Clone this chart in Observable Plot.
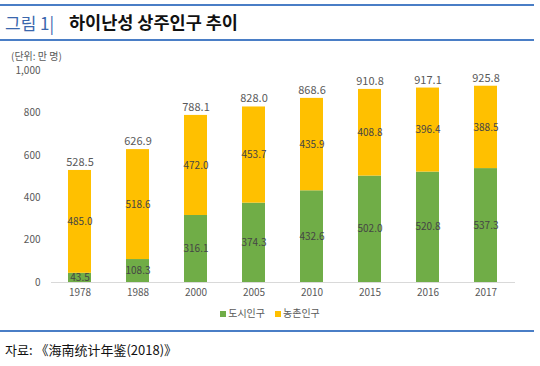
<!DOCTYPE html>
<html><head><meta charset="utf-8">
<script src="https://cdn.jsdelivr.net/npm/d3@7"></script>
<script src="https://cdn.jsdelivr.net/npm/@observablehq/plot@0.6"></script>
<style>
body{margin:0;width:540px;height:366px;background:#fff;font-family:"Noto Sans CJK KR",sans-serif;position:relative;overflow:hidden}
#title{position:absolute;left:0;top:4px;width:534px;height:33px;border-top:2px solid #4a7ec6;border-bottom:2px solid #4a7ec6;}
#title span.n{position:absolute;left:5px;top:4px;font-size:17px;color:#3a67ad;}
#title span.t{position:absolute;left:69px;top:3px;font-size:17.5px;font-weight:bold;color:#111;}
#unit{position:absolute;left:11px;top:48px;font-size:10px;color:#595959}
#chart{position:absolute;left:0;top:62px}
#legend{position:absolute;left:0;top:305px;width:540px;text-align:center;font-size:10px;color:#595959}
#legend span.sw{display:inline-block;width:6px;height:6px;margin-right:2px;vertical-align:0px}
#legend span.it{margin:0 5px}
#bline{position:absolute;left:0;top:330px;width:534px;border-top:2px solid #4a7ec6}
#src{position:absolute;left:5px;top:340px;font-size:13px;color:#111}
</style></head>
<body>
<div id="title"><span class="n">그림 1|</span><span class="t">하이난성 상주인구 추이</span></div>
<div id="unit">(단위: 만 명)</div>
<div id="chart"></div>
<div id="legend"></div>
<div id="bline"></div>
<div id="src">자료: 《海南统计年鉴(2018)》</div>
<script>
const years = ["1978","1988","2000","2005","2010","2015","2016","2017"];
const urban = [43.5,108.3,316.1,374.3,432.6,502.0,520.8,537.3];
const rural = [485.0,518.6,472.0,453.7,435.9,408.8,396.4,388.5];
const totals = [528.5,626.9,788.1,828.0,868.6,910.8,917.1,925.8];
const seriesNames = ["도시인구","농촌인구"];
const colors = ["#70ad47","#ffc000"];

const rows = [];
years.forEach((y,i)=>{
  rows.push({year:y, type:seriesNames[0], value:urban[i]});
  rows.push({year:y, type:seriesNames[1], value:rural[i]});
});
const totalRows = years.map((y,i)=>({year:y, total:totals[i]}));

const chart = Plot.plot({
  width:540, height:245,
  marginLeft:51, marginRight:25, marginTop:8, marginBottom:25,
  style:{fontFamily:"'Noto Sans CJK KR', sans-serif", fontSize:"10px", color:"#595959", background:"transparent"},
  x:{domain:years, paddingInner:0.6, paddingOuter:0.3, label:null, tickSize:0, tickPadding:6},
  y:{domain:[0,1000], ticks:[0,200,400,600,800,1000], label:null, tickSize:0, tickPadding:11, tickFormat:d3.format(",")},
  color:{domain:seriesNames, range:colors},
  marks:[
    Plot.barY(rows, Plot.stackY({x:"year", y:"value", fill:"type", order:seriesNames})),
    Plot.ruleY([0], {stroke:"#d9d9d9"}),
    Plot.text(rows, Plot.stackY({x:"year", y:"value", z:"type", order:seriesNames, text:d=>d.value.toFixed(1), fill:"#454545", fontSize:10})),
    Plot.text(totalRows, {x:"year", y:"total", text:d=>d.total.toFixed(1), dy:-8, fill:"#595959", fontSize:11})
  ]
});
document.getElementById("chart").appendChild(chart);

const lg = document.getElementById("legend");
seriesNames.forEach((n,i)=>{
  const it = document.createElement("span"); it.className="it";
  const sw = document.createElement("span"); sw.className="sw"; sw.style.background=colors[i];
  it.appendChild(sw); it.appendChild(document.createTextNode(n));
  lg.appendChild(it);
});
</script>
</body></html>
